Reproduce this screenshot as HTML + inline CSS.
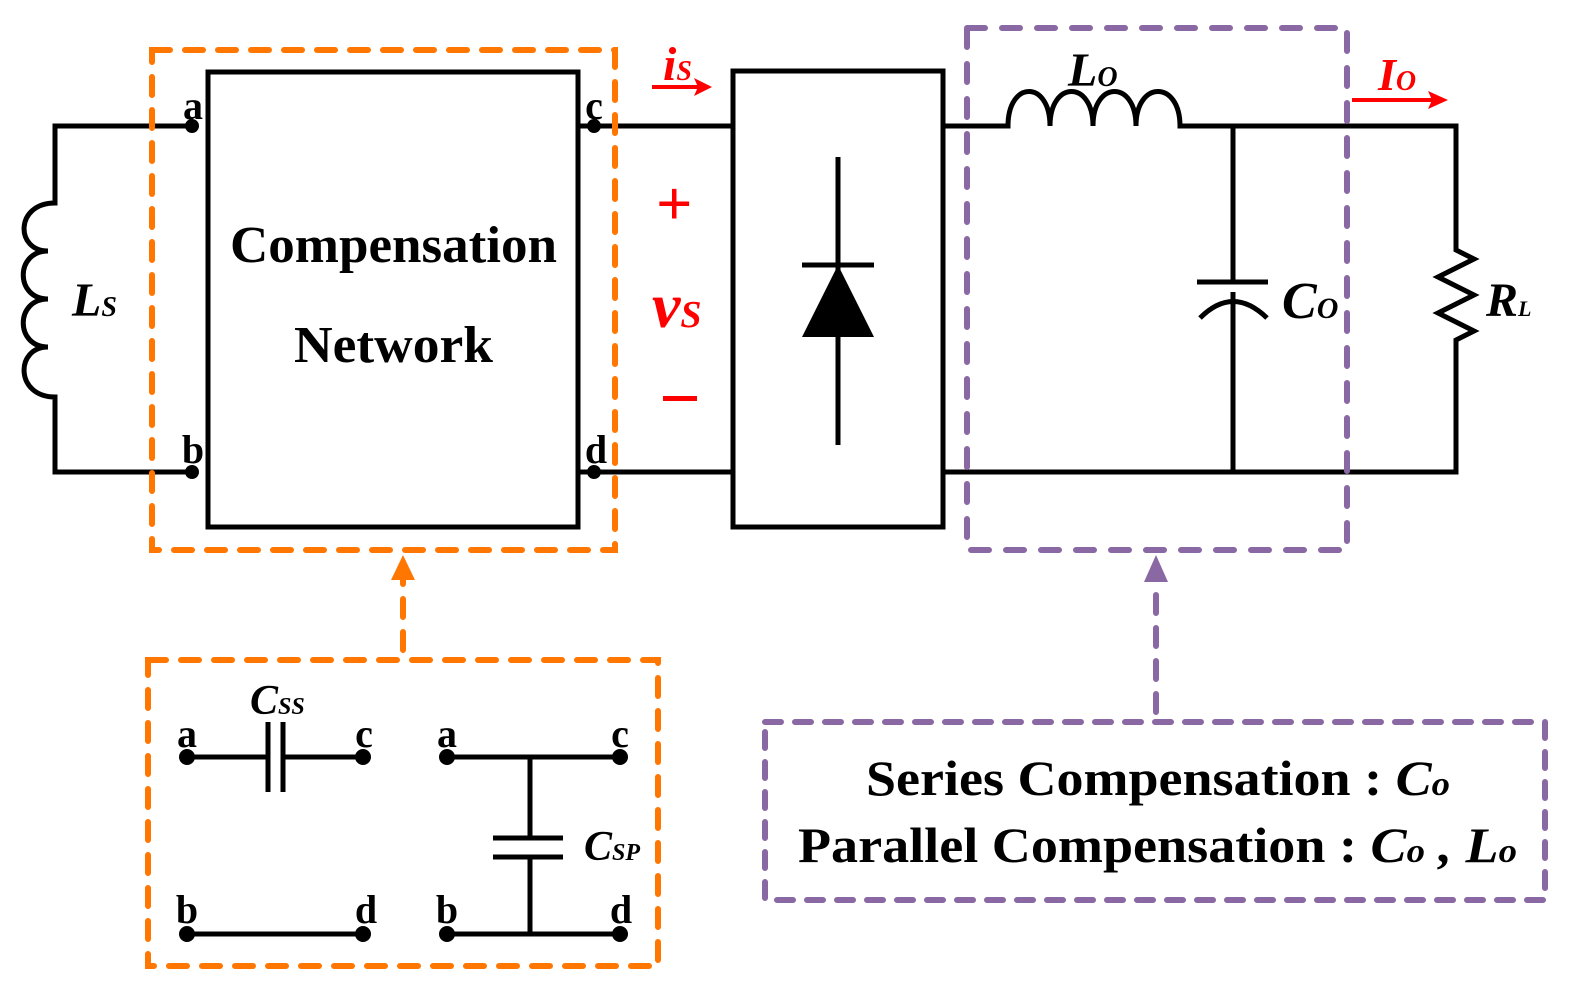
<!DOCTYPE html>
<html><head><style>html,body{margin:0;padding:0;background:#fff;}svg{display:block}</style></head>
<body>
<svg width="1575" height="997" viewBox="0 0 1575 997" xmlns="http://www.w3.org/2000/svg" font-family="Liberation Serif, serif" font-weight="bold">
<g fill="none" stroke="#000" stroke-width="5">
<path d="M192 126 H55 V203 C15 203 15 251 48 251 C15 251 15 299 48 299 C15 299 15 347 48 347 C15 347 15 397 55 397 V472 H192"/>
<rect x="208" y="72" width="370" height="455"/>
<path d="M578 126 H733 M578 472 H733"/>
<rect x="733" y="71" width="210" height="456"/>
<path d="M838 157 V445 M802 265 H874"/>
<path d="M943 126 H1008 C1008 80 1050 80 1050 126 C1050 80 1093 80 1093 126 C1093 80 1136 80 1136 126 C1136 80 1180 80 1180 126 H1456 V250 L1474 259 L1438 277 L1474 295 L1438 313 L1474 331 L1456 340 V472 H943"/>
<path d="M1233 126 V282 M1197 282 H1268 M1233 292 V472"/>
<path d="M1200 318 Q1233 285 1267 318"/>
<path d="M187 757 H268 M283 757 H363 M268 722 V792 M283 722 V792 M187 934 H363"/>
<path d="M447 757 H620 M530 757 V838 M493 838 H563 M493 857 H563 M530 857 V934 M447 934 H620"/>
</g>
<polygon points="838,265 802,337 874,337" fill="#000"/>
<g fill="#000">
<circle cx="192" cy="126" r="7"/><circle cx="192" cy="472" r="7"/>
<circle cx="594" cy="126" r="7"/><circle cx="594" cy="472" r="7"/>
<circle cx="187" cy="757" r="8"/><circle cx="363" cy="757" r="8"/><circle cx="187" cy="934" r="8"/><circle cx="363" cy="934" r="8"/>
<circle cx="447" cy="757" r="8"/><circle cx="620" cy="757" r="8"/><circle cx="447" cy="934" r="8"/><circle cx="620" cy="934" r="8"/>
</g>
<g fill="none" stroke-width="6" stroke-linecap="round">
<rect x="152" y="50" width="463" height="500" stroke="#ff7700" stroke-dasharray="18 15"/>
<rect x="148" y="660" width="510" height="306" stroke="#ff7700" stroke-dasharray="18 15"/>
<path d="M403 650 V575" stroke="#ff7700" stroke-dasharray="18 15"/>
<rect x="967" y="28" width="380" height="522" stroke="#8a68a3" stroke-dasharray="18 17"/>
<rect x="765" y="722" width="780" height="178" stroke="#8a68a3" stroke-dasharray="16 14"/>
<path d="M1156 712 V580" stroke="#8a68a3" stroke-dasharray="18 15"/>
</g>
<polygon points="403,555 391,580 415,580" fill="#ff7700"/>
<polygon points="1156,555 1144,582 1168,582" fill="#8a68a3"/>
<g stroke="#f00" stroke-width="4"><path d="M652 87 H700 M1352 100 H1435"/></g>
<polygon points="712,87 694,78 698,87 694,96" fill="#f00"/>
<polygon points="1448,100 1428,91 1432,100 1428,109" fill="#f00"/>
<g font-size="40" fill="#000">
<text x="193" y="119" text-anchor="middle">a</text>
<text x="594" y="119" text-anchor="middle">c</text>
<text x="193" y="463" text-anchor="middle">b</text>
<text x="596" y="463" text-anchor="middle">d</text>
<text x="187" y="747" text-anchor="middle">a</text>
<text x="364" y="747" text-anchor="middle">c</text>
<text x="187" y="923" text-anchor="middle">b</text>
<text x="366" y="923" text-anchor="middle">d</text>
<text x="447" y="747" text-anchor="middle">a</text>
<text x="620" y="747" text-anchor="middle">c</text>
<text x="447" y="923" text-anchor="middle">b</text>
<text x="621" y="923" text-anchor="middle">d</text>
</g>
<text x="230" y="262" font-size="52" textLength="327" lengthAdjust="spacingAndGlyphs">Compensation</text>
<text x="294" y="362" font-size="52" textLength="199" lengthAdjust="spacingAndGlyphs">Network</text>
<g font-style="italic">
<text x="72" y="316" font-size="48">L<tspan font-size="28">S</tspan></text>
<text x="1068" y="86" font-size="48">L<tspan font-size="28">O</tspan></text>
<text x="1282" y="318" font-size="52">C<tspan font-size="30">O</tspan></text>
<text x="1486" y="316" font-size="48">R<tspan font-size="22">L</tspan></text>
<text x="250" y="714" font-size="42">C<tspan font-size="24">SS</tspan></text>
<text x="584" y="860" font-size="42">C<tspan font-size="24">SP</tspan></text>
<g fill="#f00">
<text x="663" y="80" font-size="48">i<tspan font-size="28">S</tspan></text>
<text x="652" y="327" font-size="64">v<tspan font-size="38">S</tspan></text>
<text x="1378" y="90" font-size="46">I<tspan font-size="28">O</tspan></text>
</g>
</g>
<g fill="#f00" font-size="64"><text x="656" y="225">+</text></g>
<rect x="663" y="396" width="34" height="5" fill="#f00"/>
<text x="866" y="795" font-size="50" textLength="584" lengthAdjust="spacingAndGlyphs">Series Compensation : <tspan font-style="italic">C<tspan font-size="34">o</tspan></tspan></text>
<text x="798" y="862" font-size="50" textLength="719" lengthAdjust="spacingAndGlyphs">Parallel Compensation : <tspan font-style="italic">C<tspan font-size="34">o</tspan> , L<tspan font-size="34">o</tspan></tspan></text>
</svg>
</body></html>
